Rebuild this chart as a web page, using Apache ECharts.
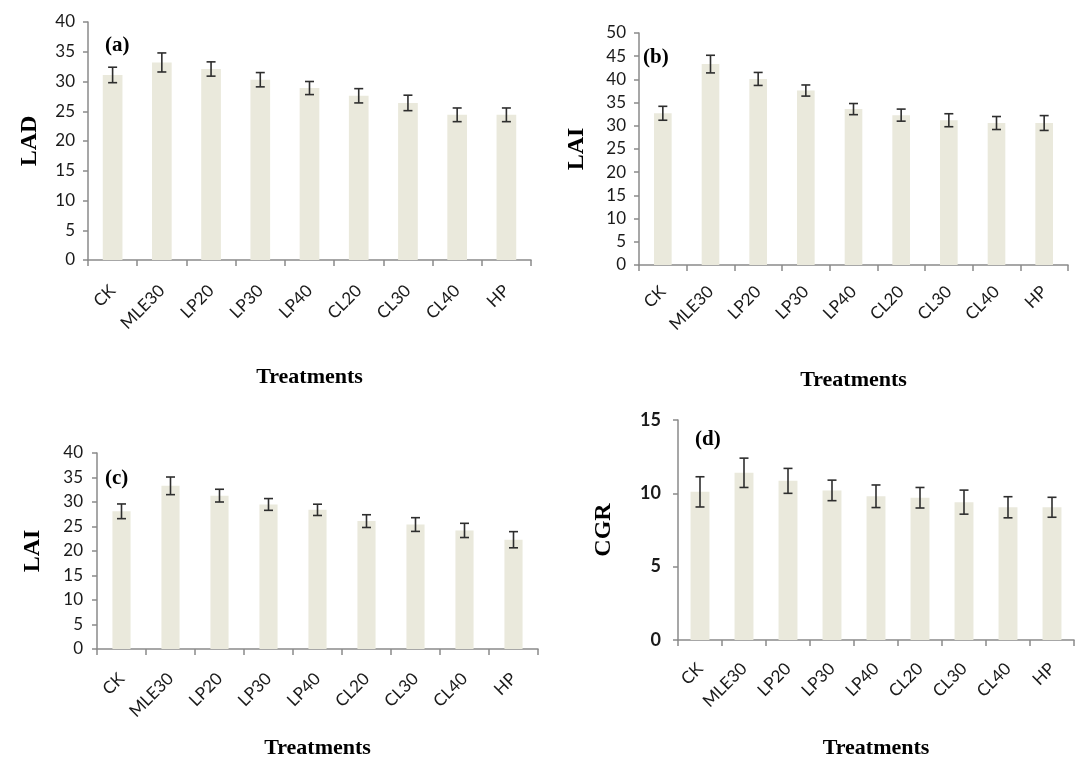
<!DOCTYPE html>
<html>
<head>
<meta charset="utf-8">
<script src="https://cdn.jsdelivr.net/npm/echarts@6/dist/echarts.min.js"></script>
<style>
html,body{margin:0;padding:0;background:#fff;}
#chart{width:1081px;height:760px;}
</style>
</head>
<body>
<div id="chart"></div>
<script>
const categories = ['CK','MLE30','LP20','LP30','LP40','CL20','CL30','CL40','HP'];

const ladValues  = [31.1, 33.2, 32.1, 30.3, 28.9, 27.6, 26.4, 24.4, 24.4];
const ladErrors  = [1.3, 1.6, 1.2, 1.2, 1.1, 1.2, 1.3, 1.15, 1.15];

const laiBValues = [32.7, 43.3, 40.1, 37.6, 33.6, 32.3, 31.2, 30.6, 30.6];
const laiBErrors = [1.5, 1.9, 1.4, 1.2, 1.2, 1.3, 1.4, 1.4, 1.6];

const laiCValues = [28.1, 33.3, 31.3, 29.5, 28.4, 26.1, 25.4, 24.2, 22.3];
const laiCErrors = [1.5, 1.8, 1.3, 1.2, 1.15, 1.3, 1.4, 1.45, 1.65];

const cgrValues  = [10.1, 11.4, 10.85, 10.2, 9.8, 9.7, 9.4, 9.05, 9.05];
const cgrErrors  = [1.03, 1.0, 0.85, 0.7, 0.77, 0.7, 0.82, 0.72, 0.68];

const panelLabels = ['(a)', '(b)', '(c)', '(d)'];
const yNames = ['LAD', 'LAI', 'LAI', 'CGR'];
const xName = 'Treatments';
const yMax = [40, 50, 40, 15];
const yInterval = [5, 5, 5, 5];

const panels = [
  {values: ladValues,  errors: ladErrors},
  {values: laiBValues, errors: laiBErrors},
  {values: laiCValues, errors: laiCErrors},
  {values: cgrValues,  errors: cgrErrors}
];

const grids = [
  {left: 88,  top: 22,  width: 443, height: 238},
  {left: 639, top: 33,  width: 429, height: 232},
  {left: 97,  top: 453, width: 441, height: 203},
  {left: 678, top: 420, width: 396, height: 223}
];
const xNameGaps = [106, 104, 88, 97];
const yNameGaps = [46, 50, 52, 62];
const xLabelMargins = [28, 24, 27, 26];
const yLabelMargins = [13, 13, 14, 17];
const barWidths = ['40%', '37%', '37%', '43%'];
const labelPos = [[105, 35], [643, 47], [105, 468], [695, 429]];

const serif = '"Liberation Serif", "DejaVu Serif", serif';
const sans = 'Lato, "Open Sans", sans-serif';
const axisColor = '#8a8a8a';
const barColor = '#EAE9DC';
const errColor = '#2e2e2e';

const xAxes = [], yAxes = [], series = [], graphics = [];

panels.forEach((p, k) => {
  xAxes.push({
    type: 'category', gridIndex: k, data: categories,
    boundaryGap: true,
    axisLine: {show: true, lineStyle: {color: axisColor, width: 1.5}},
    axisTick: {show: true, length: 6, lineStyle: {color: axisColor, width: 1.5}},
    axisLabel: {rotate: 45, margin: xLabelMargins[k], fontFamily: sans, fontSize: 17, color: '#1a1a1a', interval: 0},
    name: xName, nameLocation: 'middle', nameGap: xNameGaps[k],
    nameTextStyle: {fontFamily: serif, fontWeight: 'bold', fontSize: 22, color: '#000'}
  });
  yAxes.push({
    type: 'value', gridIndex: k, min: 0, max: yMax[k], interval: yInterval[k],
    splitLine: {show: false},
    axisLine: {show: true, lineStyle: {color: axisColor, width: 1.5}},
    axisTick: {show: true, length: 5, lineStyle: {color: axisColor, width: 1.5}},
    axisLabel: {fontFamily: sans, fontSize: k === 3 ? 18 : 17, color: '#1a1a1a', margin: yLabelMargins[k],
                fontWeight: k === 3 ? 'bold' : 'normal'},
    name: yNames[k], nameLocation: 'middle', nameGap: yNameGaps[k], nameRotate: 90,
    nameTextStyle: {fontFamily: serif, fontWeight: 'bold', fontSize: 24, color: '#000'}
  });
  series.push({
    type: 'bar', xAxisIndex: k, yAxisIndex: k, data: p.values,
    barWidth: barWidths[k],
    itemStyle: {color: barColor},
    silent: true
  });
  series.push({
    type: 'custom', xAxisIndex: k, yAxisIndex: k,
    data: p.values.map((v, i) => [i, v, p.errors[i]]),
    encode: {x: 0, y: 1},
    silent: true, z: 5,
    renderItem: function (params, api) {
      const i = api.value(0), v = api.value(1), e = api.value(2);
      const hi = api.coord([i, v + e]);
      const lo = api.coord([i, v - e]);
      const half = 4.5;
      const style = {stroke: errColor, lineWidth: 1.6};
      return {
        type: 'group',
        children: [
          {type: 'line', shape: {x1: hi[0], y1: hi[1], x2: lo[0], y2: lo[1]}, style: style},
          {type: 'line', shape: {x1: hi[0] - half, y1: hi[1], x2: hi[0] + half, y2: hi[1]}, style: style},
          {type: 'line', shape: {x1: lo[0] - half, y1: lo[1], x2: lo[0] + half, y2: lo[1]}, style: style}
        ]
      };
    }
  });
  graphics.push({
    type: 'text', left: labelPos[k][0], top: labelPos[k][1],
    style: {text: panelLabels[k], font: 'bold 21px ' + serif, fill: '#000'}
  });
});

const chart = echarts.init(document.getElementById('chart'), null, {renderer: 'canvas'});
chart.setOption({
  animation: false,
  backgroundColor: '#ffffff',
  grid: grids.map(g => Object.assign({containLabel: false}, g)),
  xAxis: xAxes,
  yAxis: yAxes,
  series: series,
  graphic: graphics
});
</script>
</body>
</html>
